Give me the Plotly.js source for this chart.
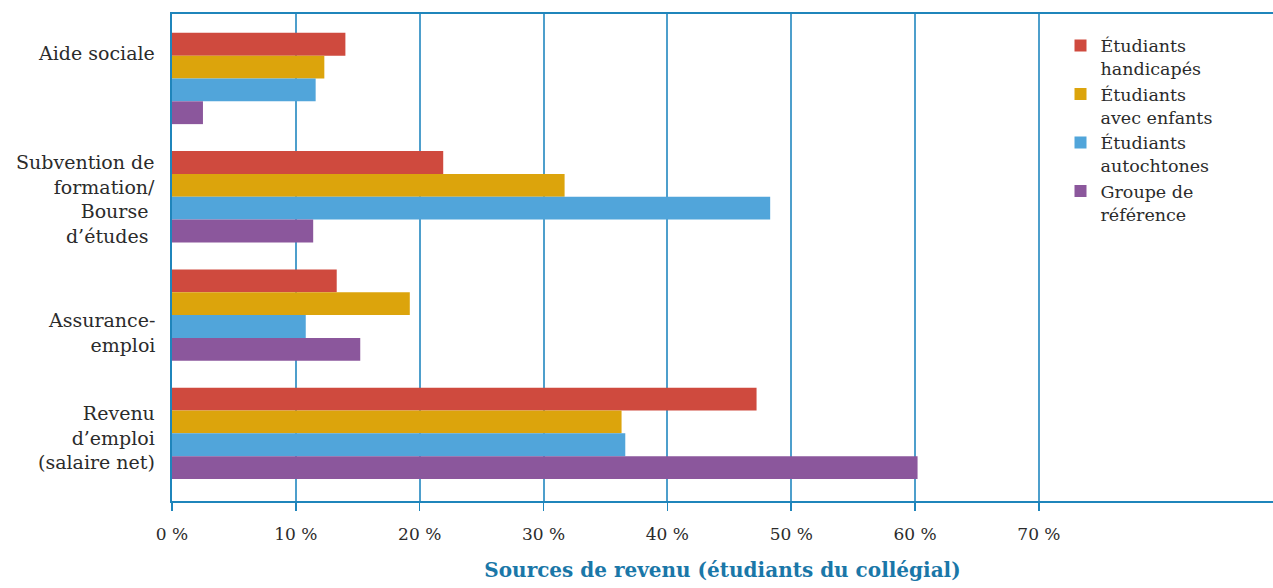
<!DOCTYPE html>
<html>
<head>
<meta charset="utf-8">
<script src="https://cdn.plot.ly/plotly-3.0.1.min.js"></script>
<style>html,body{margin:0;padding:0;background:#fff;}#chart{width:1273px;height:588px;}</style>
</head>
<body>
<div id="chart"></div>
<script>
const categories = [
  "Aide sociale",
  "Subvention de<br>formation/<br>Bourse\u00a0<br>d’études\u00a0",
  "Assurance-<br>emploi",
  "Revenu<br>d’emploi<br>(salaire net)"
];
const seriesNames = [
  "Étudiants<br>handicapés",
  "Étudiants<br>avec enfants",
  "Étudiants<br>autochtones",
  "Groupe de<br>référence"
];
const handicapes = [14.0, 21.9, 13.3, 47.2];
const avecEnfants = [12.3, 31.7, 19.2, 36.3];
const autochtones = [11.6, 48.3, 10.8, 36.6];
const reference = [2.5, 11.4, 15.2, 60.2];
const tickValues = [0, 10, 20, 30, 40, 50, 60, 70];
const tickLabels = ["0 %", "10 %", "20 %", "30 %", "40 %", "50 %", "60 %", "70 %"];
const colors = ["#CF4A3E", "#DCA40C", "#51A5DA", "#8B579C"];
// vertical offsets (in category units) of each category label relative to its bar group
const labelOffsets = [-0.215, 0.015, 0.145, 0.037];

const series = [handicapes, avecEnfants, autochtones, reference];
const traces = series.map((vals, i) => ({
  type: "bar",
  orientation: "h",
  name: seriesNames[i],
  x: vals,
  y: categories,
  marker: {color: colors[i]},
  hoverinfo: "x+name"
}));

const font = "'DejaVu Serif', 'Liberation Serif', serif";
const annotations = categories.map((c, i) => ({
  xref: "paper", x: 0, xanchor: "right", xshift: -15,
  yref: "y", y: i + labelOffsets[i], yanchor: "middle",
  text: c, showarrow: false, align: "right",
  font: {family: font, size: 19, color: "#2b2b2b"}
}));

const layout = {
  width: 1273, height: 588,
  margin: {l: 172, r: 0, t: 14, b: 87},
  paper_bgcolor: "#fff", plot_bgcolor: "#fff",
  barmode: "group",
  bargap: 0.228,
  bargroupgap: 0,
  font: {family: font, color: "#2b2b2b", size: 17},
  xaxis: {
    range: [0, 88.9],
    tickvals: tickValues,
    ticktext: tickLabels,
    showgrid: true, gridcolor: "#4E9FCC", gridwidth: 2,
    zeroline: false,
    showline: true, linecolor: "#1F85BB", linewidth: 2, mirror: true,
    ticks: "outside", ticklen: 8, tickcolor: "#1F85BB", tickwidth: 1.5,
    ticklabelstandoff: 9,
    tickfont: {family: font, size: 17, color: "#2b2b2b"},
    title: {text: "<b>Sources de revenu (étudiants du collégial)</b>", font: {family: font, size: 20, color: "#1A77A8"}, standoff: 20},
    fixedrange: true
  },
  yaxis: {
    type: "category",
    categoryorder: "array", categoryarray: categories,
    range: [3.572, -0.545],
    showgrid: false, zeroline: false,
    showline: true, linecolor: "#1F85BB", linewidth: 2,
    ticks: "", showticklabels: false,
    fixedrange: true
  },
  annotations: annotations,
  legend: {
    x: 0.807, xanchor: "left", y: 0.972, yanchor: "top",
    valign: "top",
    font: {family: font, size: 17.5, color: "#2b2b2b"},
    bgcolor: "rgba(0,0,0,0)",
    tracegroupgap: 0
  },
  showlegend: true
};
Plotly.newPlot("chart", traces, layout, {displayModeBar: false, staticPlot: true});
</script>
</body>
</html>
